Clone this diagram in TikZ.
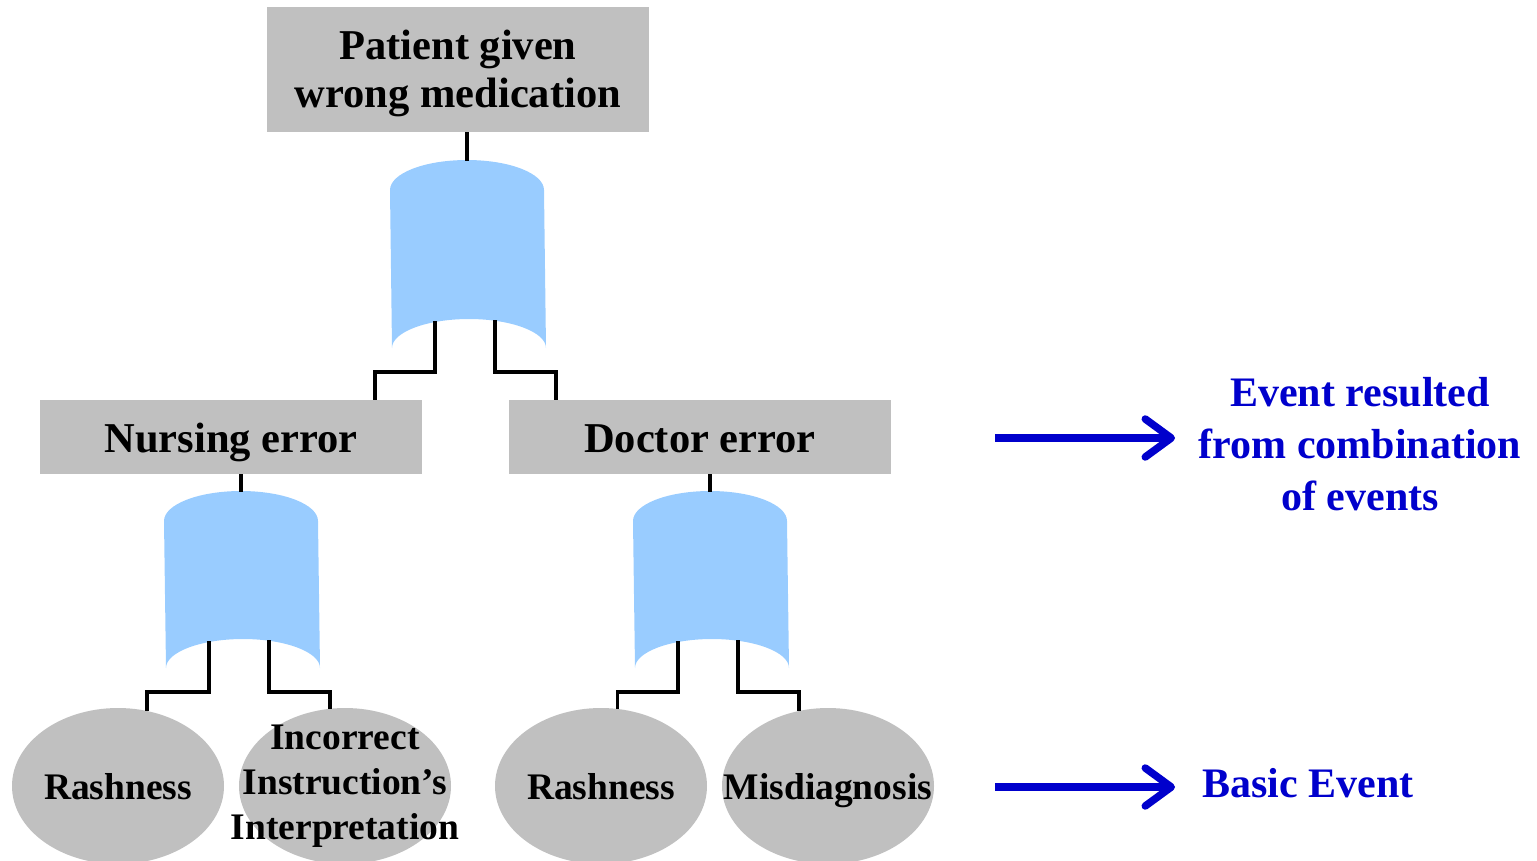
\documentclass[tikz,border=0pt]{standalone}
\usepackage{fontspec}
\setmainfont{Liberation Serif}
\usepackage{xcolor}
\usetikzlibrary{shapes.geometric}
\usetikzlibrary{calc}
\usetikzlibrary{arrows, arrows.meta}

\definecolor{boxgray}{RGB}{192,192,192}
\definecolor{gateblue}{RGB}{153,204,255}
\definecolor{noteblue}{RGB}{0,0,204}

\tikzset{
    eventbox/.style={fill=boxgray, minimum width=382pt, inner sep=0pt, align=center, font=\fontsize{42.5}{48}\selectfont\bfseries},
    oneline/.style={text height=30pt, text depth=0pt},
    basicevt/.style={ellipse, fill=boxgray, minimum width=212pt, minimum height=156pt, inner sep=0pt},
    basiclabel/.style={align=center, inner sep=0pt, font=\fontsize{37.5}{45}\selectfont\bfseries},
    wire/.style={line width=3.5pt},
    note/.style={text=noteblue, align=center, font=\fontsize{42}{52}\selectfont\bfseries},
    pointer/.style={draw=noteblue, line width=7.5pt, -{Straight Barb[round, length=26pt, width=38pt]}},
    pics/orgate/.style={code={
        \fill[gateblue] (-77,30) .. controls (-77,13.4) and (-42.5,0) .. (0,0)
            .. controls (42.5,0) and (77,13.4) .. (77,30)
            -- (79,#1) .. controls (79,#1-16) and (44,#1-29) .. (2,#1-29)
            .. controls (-40,#1-29) and (-75,#1-16) .. (-75,#1) -- cycle;
        \coordinate (-top) at (0,1);
        \coordinate (-l) at (-32,#1-27);
        \coordinate (-r) at (28,#1-28);
        \coordinate (-lb) at (-32,#1+24);
        \coordinate (-rb) at (28,#1+24);
    }}
}

\begin{document}
\begin{tikzpicture}[x=1pt, y=-1pt]
    \useasboundingbox (0,0) rectangle (1537,860);

    % events
    \node[eventbox, minimum height=125pt] (top) at (458,69.5) {\rule{0pt}{37pt}Patient given\\wrong medication};
    \node[eventbox, oneline, minimum height=74pt] (nurse) at (231,437) {Nursing error};
    \node[eventbox, oneline, minimum height=74pt] (doc) at (700,437) {Doctor error};

    % gates
    \pic (g0) at (467,160) {orgate=188};
    \pic (g1) at (241,491) {orgate=177};
    \pic (g2) at (710,491) {orgate=177};

    % basic events
    \node[basicevt, label={[basiclabel, text height=27pt, text depth=0pt]center:Rashness}] (rash1) at (118,786) {};
    \node[basicevt, label={[basiclabel]center:Incorrect\\Instruction’s\\Interpretation}] (instr) at (345,786) {};
    \node[basicevt, label={[basiclabel, text height=27pt, text depth=0pt]center:Rashness}] (rash2) at (601,786) {};
    \node[basicevt, label={[basiclabel, text height=27pt, text depth=0pt]center:Misdiagnosis}] (misdiag) at (828,786) {};

    % wiring
    \draw[wire] (top.south -| g0-top) -- (g0-top);
    \draw[wire] (g0-l) -- (g0-lb) -| ([xshift=144pt]nurse.north);
    \draw[wire] (g0-r) -- (g0-rb) -| ([xshift=-144pt]doc.north);
    \draw[wire] (nurse.south -| g1-top) -- (g1-top);
    \draw[wire] (doc.south -| g2-top) -- (g2-top);
    \draw[wire] (g1-l) -- (g1-lb) -| (rash1.69);
    \draw[wire] (g1-r) -- (g1-rb) -| (instr.101);
    \draw[wire] (g2-l) -- (g2-lb) -| (rash2.78);
    \draw[wire] (g2-r) -- (g2-rb) -| (misdiag.111);

    % legend
    \node[note] (combo) at (1360,444) {Event resulted\\from combination\\of events};
    \node[note] (basic) at (1308,783) {Basic Event};
    \coordinate (p1a) at (995,438);
    \coordinate (p1b) at (1175,438);
    \coordinate (p2a) at (995,787);
    \coordinate (p2b) at (1175,787);
    \draw[pointer] (p1a) -- (p1b);
    \draw[pointer] (p2a) -- (p2b);
\end{tikzpicture}
\end{document}
